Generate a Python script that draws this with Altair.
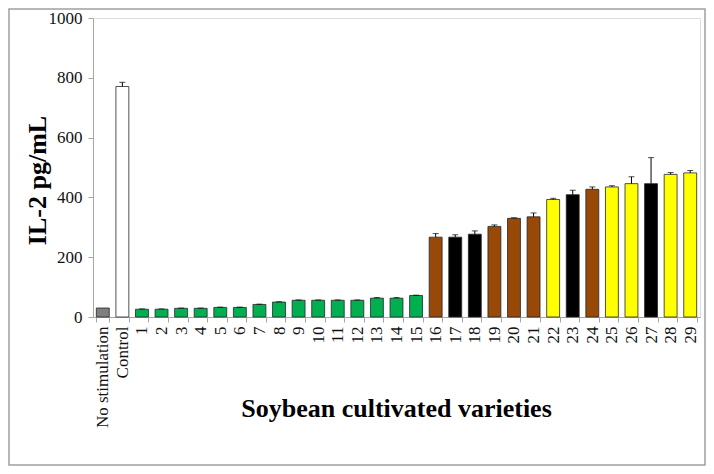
import altair as alt
import pandas as pd

categories = ["No stimulation", "Control"] + [str(i) for i in range(1, 30)]
values = [30, 771, 26, 26, 29, 29, 32, 32, 42, 50, 56, 56, 56, 56, 63, 63, 72,
          267, 267, 277, 303, 330, 335, 393, 409, 427, 435, 446, 446, 477, 482]
errors = [0, 14, 1, 1, 1, 1, 1, 1, 1, 1, 1, 1, 1, 1, 2, 2, 1,
          12, 8, 11, 5, 2, 13, 4, 15, 8, 4, 23, 87, 6, 8]
groups = (["gray", "white"] + ["green"] * 15 +
          ["brown", "black", "black", "brown", "brown", "brown", "yellow", "black",
           "brown", "yellow", "yellow", "black", "yellow", "yellow"])

group_names = ["gray", "white", "green", "brown", "black", "yellow"]
group_colors = ["#7f7f7f", "#ffffff", "#00b050", "#984807", "#000000", "#ffff00"]

df = pd.DataFrame({"cat": categories, "val": values, "err": errors, "grp": groups})
df["top"] = df["val"] + df["err"]

FONT = "Liberation Serif, Times New Roman, serif"

x_enc = alt.X("cat:N", sort=categories,
              scale=alt.Scale(paddingInner=0.34, paddingOuter=0.17),
              axis=alt.Axis(title="Soybean cultivated varieties", labelAngle=-90,
                            labelFontSize=17, labelFont=FONT, labelColor="#111111",
                            labelPadding=4,
                            tickBand="extent", tickSize=5, tickColor="#a6a6a6",
                            domainColor="#a6a6a6",
                            titleFont=FONT, titleFontSize=26, titleFontWeight="bold",
                            titleColor="#000000", titleX=303, titleY=91,
                            titleAlign="center", titleBaseline="middle"))

y_scale = alt.Scale(domain=[0, 1000], nice=False)

bars = alt.Chart(df).mark_bar(stroke="#262626", strokeWidth=0.8).encode(
    x=x_enc,
    y=alt.Y("val:Q", scale=y_scale,
            axis=alt.Axis(title="IL-2 pg/mL", values=[0, 200, 400, 600, 800, 1000],
                          format="d",
                          labelFontSize=17, labelFont=FONT, labelColor="#111111",
                          labelPadding=6, grid=False,
                          tickSize=5, tickColor="#a6a6a6", domainColor="#a6a6a6",
                          titleFont=FONT, titleFontSize=26, titleFontWeight="bold",
                          titleColor="#000000", titleX=-56, titleY=162,
                          titleAngle=270, titleAlign="center", titleBaseline="middle")),
    color=alt.Color("grp:N", scale=alt.Scale(domain=group_names, range=group_colors),
                    legend=None),
)

err_df = df[df["err"] > 0]
err_rule = alt.Chart(err_df).mark_rule(color="#000000", strokeWidth=1).encode(
    x=alt.X("cat:N", sort=categories),
    y="val:Q",
    y2="top:Q",
)
err_cap = alt.Chart(err_df).mark_tick(color="#000000", size=6, thickness=1).encode(
    x=alt.X("cat:N", sort=categories),
    y="top:Q",
)

frame = alt.Chart(alt.Data(values=[{}])).mark_rect(
    fill=None, stroke="#a0a0a0", strokeWidth=1.5).encode(
    x=alt.value(-84), x2=alt.value(612), y=alt.value(-9), y2=alt.value(447))

chart = alt.layer(frame, bars, err_rule, err_cap).properties(
    width=607, height=299,
    autosize=alt.AutoSizeParams(type="none"),
    padding={"left": 85, "top": 10, "right": 6, "bottom": 149},
).configure_view(stroke=None).configure(background="white")

chart.save("out.html", embed_options={"renderer": "svg", "actions": False})
